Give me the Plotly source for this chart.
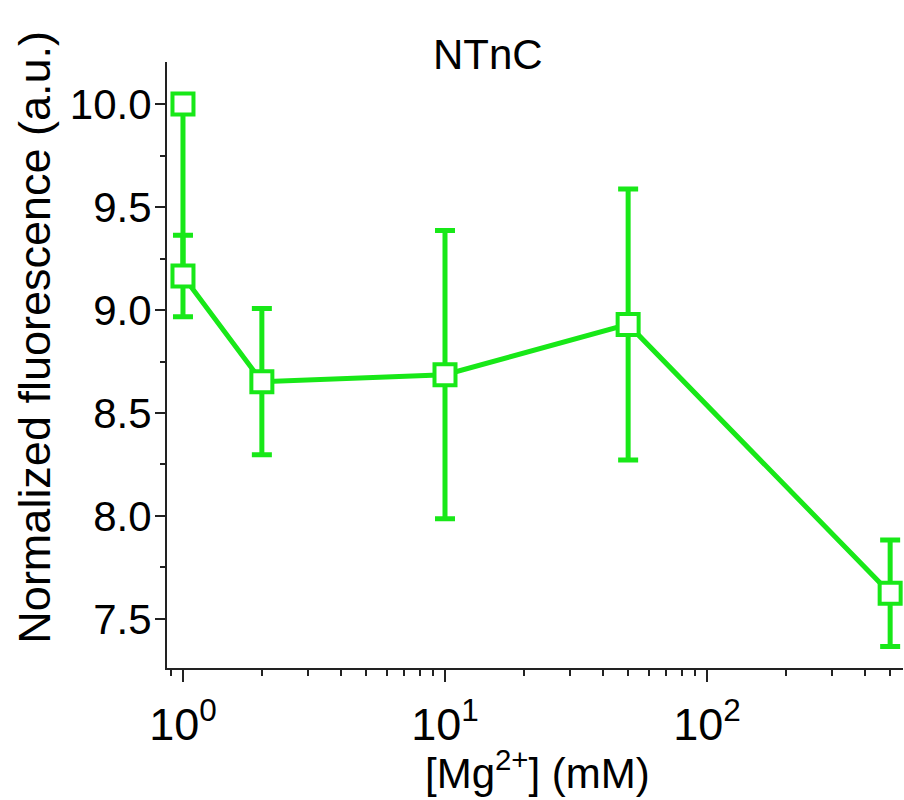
import plotly.graph_objects as go

# Data
mg_mM = [1, 1, 2, 10, 50, 500]
fluorescence = [10.0, 9.165, 8.652, 8.686, 8.930, 7.625]
fl_error = [None, 0.198, 0.355, 0.70, 0.658, 0.259]

y_tickvals = [7.5, 8.0, 8.5, 9.0, 9.5, 10.0]
x_tickvals = [1, 10, 100]
x_ticktext = ["10<sup>0</sup>", "10<sup>1</sup>", "10<sup>2</sup>"]
x_minorvals = [0.9, 2, 3, 4, 5, 6, 7, 8, 9, 20, 30, 40, 50, 60, 70, 80, 90,
               200, 300, 400, 500]
y_minorvals = [7.25, 7.75, 8.25, 8.75, 9.25, 9.75, 10.25]

GREEN = "#18E818"
FONT = "Liberation Sans"

fig = go.Figure()
fig.add_trace(go.Scatter(
    x=mg_mM, y=fluorescence, mode="lines+markers",
    line=dict(color=GREEN, width=5),
    marker=dict(symbol="square", size=21, color="white",
                line=dict(color=GREEN, width=4)),
    error_y=dict(type="data", array=fl_error, visible=True,
                 color=GREEN, thickness=5, width=10),
    showlegend=False,
))

fig.update_layout(
    width=904, height=800,
    margin=dict(l=167, r=1, t=62, b=132),
    paper_bgcolor="white", plot_bgcolor="white",
    font=dict(family=FONT, size=42, color="black"),
    xaxis=dict(
        type="log", range=[-0.061, 2.748],
        tickmode="array", tickvals=x_tickvals, ticktext=x_ticktext,
        ticks="outside", ticklen=12, tickwidth=2, tickcolor="#222",
        showline=True, linewidth=2, linecolor="#222",
        showgrid=False, zeroline=False,
        tickfont=dict(size=45),
        ticklabelstandoff=4,
        minor=dict(tickmode="array", tickvals=x_minorvals, ticks="outside",
                   ticklen=6, tickwidth=2, tickcolor="#222", showgrid=False),
    ),
    yaxis=dict(
        range=[7.262, 10.204],
        tickmode="array", tickvals=y_tickvals, tickformat=".1f",
        ticks="outside", ticklen=10, tickwidth=2, tickcolor="#222",
        showline=True, linewidth=2, linecolor="#222",
        showgrid=False, zeroline=False,
        tickfont=dict(size=42),
        ticklabelstandoff=-5,
        minor=dict(tickmode="array", tickvals=y_minorvals, ticks="outside",
                   ticklen=5, tickwidth=2, tickcolor="#222", showgrid=False),
    ),
    annotations=[
        dict(text="NTnC", xref="paper", yref="paper", x=0.436, y=1.013,
             xanchor="center", yanchor="middle", showarrow=False,
             font=dict(size=42)),
        dict(text="[Mg<sup>2+</sup>] (mM)", xref="paper", yref="paper",
             x=0.504, y=-0.168, xanchor="center", yanchor="middle",
             showarrow=False, font=dict(size=42)),
        dict(text="Normalized fluorescence (a.u.)", xref="paper", yref="paper",
             x=-0.18, y=0.546, xanchor="center", yanchor="middle",
             textangle=-90, showarrow=False, font=dict(size=45)),
    ],
)

fig.write_html("out.html")
